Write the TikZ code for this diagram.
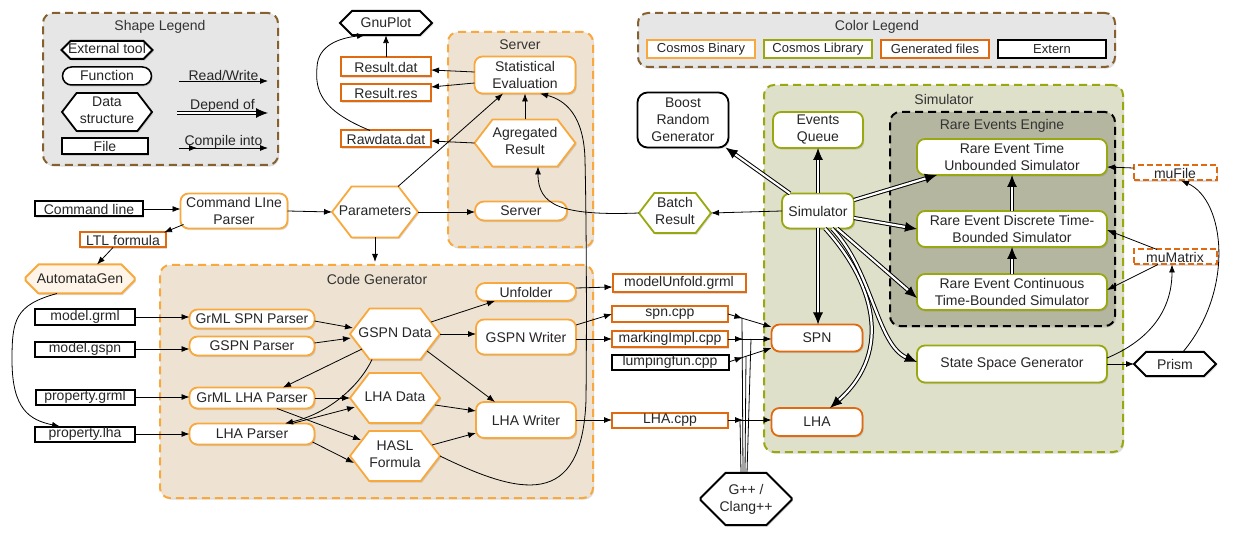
\documentclass[tikz,border=0pt]{standalone}
\usepackage{fontspec}
\setmainfont{Liberation Sans}
\usetikzlibrary{arrows.meta,shapes.misc,shapes.symbols,shadows,decorations.markings}
\definecolor{cbin}{HTML}{F8A83C}
\definecolor{clib}{HTML}{98A80E}
\definecolor{cgen}{HTML}{E06A10}
\definecolor{cbrown}{HTML}{86602F}
\definecolor{cbeige}{HTML}{EEE3D2}
\definecolor{csim}{HTML}{DFE0CA}
\definecolor{crare}{HTML}{B5B6A0}
\definecolor{clegend}{HTML}{E6E6E6}
\newcommand{\hxt}[1]{\makebox[0pt]{\begin{tabular}{@{}c@{}}#1\end{tabular}}}
\begin{document}
\begin{tikzpicture}[x=1pt,y=-1pt,
 font=\fontsize{14}{17}\selectfont,
 every node/.style={align=center,inner sep=0pt,outer sep=0pt,text=black!85},
 shad/.style={drop shadow={opacity=.28,shadow xshift=1.2pt,shadow yshift=-1.6pt}},
 cont/.style={rectangle,rounded corners=10pt,dash pattern=on 8pt off 5pt,line width=2pt,shad},
 titlenode/.style={text=black!80},
 filebox/.style={rectangle,draw=black,line width=2pt,fill=white,shad,minimum height=15pt},
 genfile/.style={filebox,draw=cgen},
 func/.style={rectangle,rounded corners=8pt,draw=cbin,line width=1.8pt,fill=white,shad},
 libfunc/.style={func,draw=clib},
 hexa/.style={signal,signal to=east and west,signal pointer angle=105,draw=cbin,line width=1.8pt,fill=white,shad},
 octa/.style 2 args={chamfered rectangle,chamfered rectangle xsep=#1,chamfered rectangle ysep=#2,draw=black,line width=2pt,fill=white,shad},
 legitem/.style={rectangle,fill=white,line width=1.8pt,minimum width=108pt,minimum height=18pt,font=\fontsize{13}{15}\selectfont},
 rw/.style={-{Latex[length=8pt,width=6pt]},line width=0.8pt},
 dep/.style={double=white,double distance=2.2pt,line width=1pt,-{Latex[length=12pt,width=10pt]}},
 comp/.style={rw,postaction={decorate},decoration={markings,mark=at position #1 with {\arrow{Latex[length=8pt,width=6pt]}}}},
 comp/.default=15pt,
 mudash/.style={dash pattern=on 6pt off 3pt}
]
\useasboundingbox (0,0) rectangle (1233,534);

% ---------- containers ----------
\node[cont,draw=cbrown,fill=clegend,minimum width=235pt,minimum height=152pt] (shapeleg) at (160.5,89) {};
\node[cont,draw=cbrown,fill=clegend,minimum width=477pt,minimum height=54pt] (colorleg) at (876.5,40) {};
\node[cont,draw=cbin,fill=cbeige,minimum width=145pt,minimum height=215pt] (serverbox) at (520.5,139.5) {};
\node[cont,draw=cbin,fill=cbeige,minimum width=433pt,minimum height=233pt] (codegen) at (376.5,381.5) {};
\node[cont,draw=clib,fill=csim,minimum width=359pt,minimum height=367pt] (simbox) at (943.5,268.5) {};
\node[cont,draw=black,fill=crare,minimum width=225pt,minimum height=214pt] (rarebox) at (1002.5,219) {};

\node[titlenode] (tshape) at (160,27) {Shape Legend};
\node[titlenode] (tcolor) at (877,27) {Color Legend};
\node[titlenode] (tserver) at (520,45) {Server};
\node[titlenode] (tcodegen) at (377,279) {Code Generator};
\node[titlenode] (tsim) at (944,99) {Simulator};
\node[titlenode] (trare) at (1002,126) {Rare Events Engine};

% ---------- shape legend ----------
\node[octa={8pt}{5pt},minimum width=91pt,minimum height=14pt,text height=8pt,text depth=0pt] (lgext) at (107,50) {External tool};
\node[rectangle,rounded corners=9pt,draw=black,line width=1.5pt,fill=white,shad,minimum width=89pt,minimum height=18pt] (lgfun) at (107,76) {Function};
\node[hexa,draw=black,minimum width=90pt,minimum height=38pt] (lgdata) at (107,112) {\hxt{Data\\structure}};
\node[filebox,minimum width=86pt,minimum height=16pt] (lgfile) at (105,146) {File};
\coordinate (rwA) at (179,81); \coordinate (rwB) at (268,81);
\coordinate (dpA) at (177,113); \coordinate (dpB) at (268,113);
\coordinate (cpA) at (179,148); \coordinate (cpB) at (268,148);
\draw[rw] (rwA) -- node[above] (lrw) {Read/Write} (rwB);
\draw[dep] (dpA) -- node[above=1pt] (ldp) {Depend of} (dpB);
\draw[comp=18pt] (cpA) -- node[above] (lcp) {Compile into} (cpB);

% ---------- color legend ----------
\node[legitem,draw=cbin] (lgbin) at (701,49) {Cosmos Binary};
\node[legitem,draw=clib] (lglib) at (818,49) {Cosmos Library};
\node[legitem,draw=cgen] (lggen) at (935,49) {Generated files};
\node[legitem,draw=black] (lgext2) at (1052,49) {Extern};

% ---------- server & results ----------
\node[func,minimum width=101pt,minimum height=37pt] (stat) at (525,75) {Statistical\\Evaluation};
\node[hexa,minimum width=101pt,minimum height=47pt] (agg) at (525,143) {\hxt{Agregated\\Result}};
\node[func,rounded corners=9pt,minimum width=92pt,minimum height=19pt] (server) at (521,211) {Server};
\node[octa={8pt}{7pt},minimum width=92pt,minimum height=17pt] (gnuplot) at (386,23) {GnuPlot};
\node[genfile,minimum width=90pt,minimum height=19pt] (resdat) at (386,67) {Result.dat};
\node[genfile,minimum width=90pt,minimum height=17pt] (resres) at (386,93) {Result.res};
\node[genfile,minimum width=90pt,minimum height=17pt] (rawdat) at (386,139) {Rawdata.dat};

% ---------- left column ----------
\node[filebox,minimum width=108pt] (cmdline) at (89,209) {Command line};
\node[func,minimum width=107pt,minimum height=35pt] (clp) at (234,211) {Command LIne\\Parser};
\node[hexa,minimum width=86pt,minimum height=51pt] (params) at (375,212) {\hxt{Parameters}};
\node[genfile,minimum width=86pt] (ltl) at (123,240) {LTL formula};
\node[octa={10pt}{8pt},draw=cbin,fill=cbin!12,minimum width=109pt,minimum height=29pt] (autgen) at (80,279) {AutomataGen};
\node[filebox,minimum width=100pt] (mgrml) at (85,317) {model.grml};
\node[filebox,minimum width=100pt] (mgspn) at (85,349) {model.gspn};
\node[filebox,minimum width=99pt] (pgrml) at (85,397) {property.grml};
\node[filebox,minimum width=100pt] (plha) at (85,434) {property.lha};

% ---------- code generator ----------
\node[func,minimum width=125pt,minimum height=19pt] (grmlspn) at (252,319) {GrML SPN Parser};
\node[func,minimum width=125pt,minimum height=19pt] (gspnp) at (252,346) {GSPN Parser};
\node[func,minimum width=125pt,minimum height=21pt] (grmllha) at (252,398) {GrML LHA Parser};
\node[func,minimum width=125pt,minimum height=21pt] (lhap) at (252,434) {LHA Parser};
\node[hexa,minimum width=90pt,minimum height=51pt] (gspnd) at (395,334) {\hxt{GSPN Data}};
\node[hexa,minimum width=90pt,minimum height=50pt] (lhad) at (395,398) {\hxt{LHA Data}};
\node[hexa,minimum width=90pt,minimum height=50pt] (hasl) at (395,456) {\hxt{HASL\\Formula}};
\node[func,rounded corners=9pt,minimum width=100pt,minimum height=18pt] (unfold) at (526,292) {Unfolder};
\node[func,minimum width=100pt,minimum height=35pt] (gspnw) at (526,337) {GSPN Writer};
\node[func,minimum width=100pt,minimum height=36pt] (lhaw) at (526,420) {LHA Writer};

% ---------- generated files ----------
\node[genfile,minimum width=133pt,minimum height=18pt] (munf) at (679,283) {modelUnfold.grml};
\node[genfile,minimum width=116pt] (spncpp) at (670,314) {spn.cpp};
\node[genfile,minimum width=116pt,minimum height=16pt] (markimpl) at (670,339) {markingImpl.cpp};
\node[filebox,minimum width=117pt] (lump) at (670,362) {lumpingfun.cpp};
\node[genfile,minimum width=116pt] (lhacpp) at (670,420) {LHA.cpp};
\node[octa={14pt}{11pt},minimum width=91pt,minimum height=36pt] (gpp) at (746,499) {G++ /\\Clang++};

% ---------- simulator ----------
\node[func,draw=black,rounded corners=10pt,minimum width=91pt,minimum height=55pt] (boost) at (683,120) {Boost\\Random\\Generator};
\node[libfunc,minimum width=90pt,minimum height=36pt] (evq) at (818,130) {Events\\Queue};
\node[libfunc,minimum width=72pt,minimum height=35pt] (sim) at (818,211) {Simulator};
\node[hexa,draw=clib,minimum width=72pt,minimum height=40pt] (batch) at (675,213) {\hxt{Batch\\Result}};
\node[libfunc,minimum width=190pt,minimum height=36pt] (reu) at (1012,157) {Rare Event Time\\Unbounded Simulator};
\node[libfunc,minimum width=190pt,minimum height=36pt] (red) at (1012,229) {Rare Event Discrete Time-\\Bounded Simulator};
\node[libfunc,minimum width=190pt,minimum height=36pt] (rec) at (1012,292) {Rare Event Continuous\\Time-Bounded Simulator};
\node[func,draw=cgen,minimum width=91pt,minimum height=27pt] (spnN) at (817,338) {SPN};
\node[func,draw=cgen,minimum width=91pt,minimum height=28pt] (lhaN) at (817,422) {LHA};
\node[libfunc,minimum width=190pt,minimum height=37pt] (ssg) at (1012,364) {State Space Generator};
\node[octa={7pt}{7pt},minimum width=82pt,minimum height=19pt] (prism) at (1175,364) {Prism};
\node[genfile,mudash,minimum width=83pt] (mufile) at (1175,173) {muFile};
\node[genfile,mudash,minimum width=83pt] (mumat) at (1175,257) {muMatrix};

% ---------- edges: top ----------
\draw[rw] (resdat.north) -- (gnuplot.south);
\draw[rw] ([xshift=-16pt]rawdat.north) .. controls (320,110) and (315,90) .. (317,67) .. controls (318,45) and (340,38) .. ([xshift=-21pt]gnuplot.south);
\draw[rw] ([yshift=3pt]stat.west) -- ([yshift=-3pt]resdat.east);
\draw[rw] ([yshift=-8pt]stat.west) -- ([yshift=6pt]resres.east);
\draw[rw] (agg.west) -- ([yshift=-2pt]rawdat.east);
\draw[rw] (agg.north) -- (stat.south);
\draw[rw] ([xshift=23pt]params.north) -- ([xshift=-22pt]stat.south);
\draw[rw] (params.east) -- (params.east -| server.west);
\draw[rw] (batch.west) .. controls (560,216) and (538,205) .. ([xshift=13pt]agg.south);
\draw[rw] (sim.west) -- (batch.east);
\draw[rw] (hasl.east) .. controls (520,495) and (582,510) .. (586,400) .. controls (587,300) and (586,200) .. (585,160) .. controls (584,115) and (565,100) .. ([xshift=15pt]stat.south);

% ---------- edges: left ----------
\coordinate (cgin) at (375,262);
\draw[rw] (cmdline.east) -- (cmdline.east -| clp.west);
\draw[rw] (clp.east) -- (params.west);
\draw[rw] ([xshift=3pt,yshift=4pt]clp.south west) -- ([xshift=-2pt]ltl.north east);
\draw[rw] ([xshift=-10pt]ltl.south) -- ([xshift=17pt]autgen.north);
\draw[rw] ([xshift=-23pt]autgen.south) .. controls (15,305) and (12,320) .. (12,360) .. controls (12,410) and (30,420) .. ([xshift=25pt]plha.north west);
\draw[rw] (mgrml.east) -- (mgrml.east -| grmlspn.west);
\draw[rw] (mgspn.east) -- (mgspn.east -| gspnp.west);
\draw[rw] (pgrml.east) -- (pgrml.east -| grmllha.west);
\draw[rw] (plha.east) -- (plha.east -| lhap.west);
\draw[rw] (params.south) -- (cgin);

% ---------- edges: code generator ----------
\draw[rw] ([yshift=-2pt]grmlspn.east) -- ([xshift=3pt,yshift=6pt]gspnd.west);
\draw[rw] ([yshift=3pt]gspnp.east) -- ([xshift=1pt,yshift=-4pt]gspnd.west);
\draw[rw] ([xshift=12pt,yshift=-15pt]gspnd.west) -- ([xshift=31pt]grmllha.north);
\draw[rw] ([xshift=-23pt]gspnd.south) .. controls (360,385) and (330,413) .. ([xshift=33pt]lhap.north);
\draw[rw] (grmllha.east) -- (lhad.west);
\draw[rw] ([xshift=25pt]grmllha.south) -- ([xshift=11pt,yshift=16pt]hasl.west);
\draw[rw] ([xshift=40pt]lhap.north) -- ([xshift=5pt,yshift=-9pt]lhad.west);
\draw[rw] ([xshift=-2pt,yshift=-8pt]lhap.east) -- ([xshift=4pt,yshift=-7pt]hasl.west);
\draw[rw] ([xshift=-9pt,yshift=12pt]gspnd.east) -- ([xshift=-31pt]unfold.south);
\draw[rw] (gspnd.east) -- (gspnd.east -| gspnw.west);
\draw[rw] ([xshift=-13pt,yshift=-17pt]gspnd.east) -- ([xshift=-31pt]lhaw.north);
\draw[rw] ([xshift=-5pt,yshift=-7pt]lhad.east) -- ([yshift=9pt]lhaw.west);
\draw[rw] ([xshift=-8pt,yshift=11pt]hasl.east) -- ([yshift=-13pt]lhaw.west);
\draw[rw] ([yshift=4pt]unfold.east) -- ([yshift=-4pt]munf.west);
\draw[rw] ([yshift=12pt]gspnw.east) -- (spncpp.west);
\draw[rw] (gspnw.east |- markimpl.west) -- (markimpl.west);
\draw[rw] (lhaw.east) -- (lhaw.east -| lhacpp.west);

% ---------- edges: compile ----------
\draw[comp] (spncpp.east) -- ([yshift=11pt]spnN.west);
\draw[comp] (markimpl.east) -- (markimpl.east -| spnN.west);
\draw[comp] (lump.east) -- ([yshift=-10pt]spnN.west);
\draw[comp] (lhacpp.east) -- (lhacpp.east -| lhaN.west);
\coordinate (cc1) at (742,318);
\coordinate (cc2) at (751,339);
\coordinate (cc3) at (746,356);
\coordinate (cc4) at (740,420);
\draw[line width=0.8pt] ([xshift=-3pt]gpp.north) -- (cc1);
\draw[line width=0.8pt] ([xshift=1pt]gpp.north) -- (cc2);
\draw[line width=0.8pt] ([xshift=-1pt]gpp.north) -- (cc3);
\draw[line width=0.8pt] ([xshift=-5pt]gpp.north) -- (cc4);

% ---------- edges: simulator ----------
\draw[dep] ([xshift=8pt]sim.north west) -- ([xshift=-3pt]boost.south east);
\draw[dep] (sim.north) -- (evq.south);
\draw[dep] ([yshift=11pt]sim.east) -- ([xshift=20pt]reu.south west);
\draw[dep] ([yshift=-7pt]sim.east) -- (red.west);
\draw[dep] ([xshift=19pt]sim.south) -- ([yshift=-6pt]rec.west);
\draw[dep] (sim.south) -- (sim.south |- spnN.north);
\draw[dep] ([xshift=7pt]sim.south) .. controls (872,280) and (895,350) .. ([xshift=13pt]lhaN.north);
\draw[dep] ([xshift=14pt]sim.south) .. controls (872,270) and (877,345) .. ([yshift=2pt]ssg.west);
\draw[dep] (rec.north) -- (red.south);
\draw[dep] (red.north) -- (reu.south);
\draw[rw] ([yshift=5pt]mufile.west) -- ([yshift=-10pt]reu.east);
\draw[rw] ([xshift=-18pt]mumat.north) -- ([yshift=-1pt]red.east);
\draw[rw] ([xshift=-17pt]mumat.south) -- ([yshift=2pt]rec.east);
\draw[rw] (ssg.east) -- (prism.west);
\draw[rw] ([yshift=6pt]ssg.east) .. controls (1150,340) and (1172,310) .. ([xshift=-3pt]mumat.south);
\draw[rw] ([xshift=8pt]prism.north) .. controls (1235,290) and (1225,200) .. ([xshift=6pt]mufile.south);
\end{tikzpicture}
\end{document}
